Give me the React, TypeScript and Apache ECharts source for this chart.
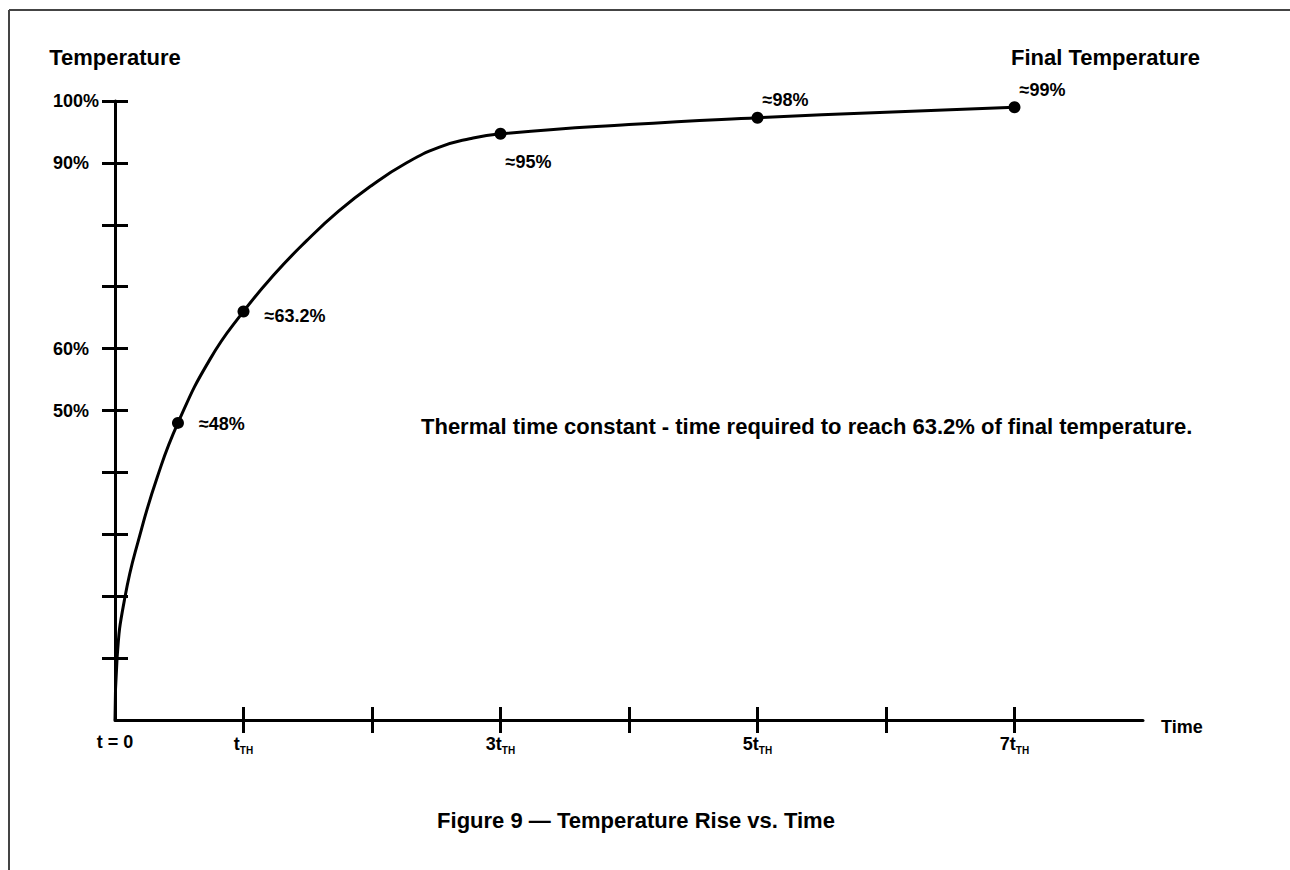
import React, { useEffect, useRef } from "react";
import * as echarts from "echarts";

// Curve: time in multiples of t_TH, temperature in % of final
const curveTime = [0, 0.016, 0.078, 0.194, 0.33, 0.49, 0.74, 1.0, 1.24, 1.49, 1.74, 2.0, 2.26, 2.52, 2.76, 3.0, 4.0, 5.0, 6.0, 7.0];
const curveTemp = [0, 9.9, 19.9, 29.9, 39.3, 48, 58.3, 66, 72, 77.4, 82.2, 86.4, 89.9, 92.5, 93.9, 94.7, 96.2, 97.3, 98.2, 99.0];

// Marked points
const markTime = [0.49, 1, 3, 5, 7];
const markTemp = [48, 66, 94.7, 97.3, 99.0];
const markLabels = ["≈48%", "≈63.2%", "≈95%", "≈98%", "≈99%"];

// Axis ticks and labels
const yTickValues = [10, 20, 30, 40, 50, 60, 70, 80, 90, 100];
const yLabelValues = [50, 60, 90, 100];
const xTickValues = [1, 2, 3, 4, 5, 6, 7];
const xLabelValues = [0, 1, 3, 5, 7];
const xLabelText: Record<number, string> = { 0: "t = 0", 1: "{t|t}{s|TH}", 3: "{t|3t}{s|TH}", 5: "{t|5t}{s|TH}", 7: "{t|7t}{s|TH}" };

const FONT = "'Liberation Sans', Arial, sans-serif";
const markLabelOffsets = [[0, 1], [0, 5], [-16, 28], [-16, -18], [-16, -17]];

export default function App() {
  const ref = useRef<HTMLDivElement>(null);
  useEffect(() => {
    if (!ref.current) return;
    const chart = echarts.init(ref.current, undefined, { renderer: "svg" });
    const axisLineStyle = { color: "#000", width: 3 };
    chart.setOption({
      animation: false,
      backgroundColor: "#fff",
      textStyle: { fontFamily: FONT, color: "#000" },
      grid: { left: 115, top: 101, right: 147, bottom: 150 },
      xAxis: [
        {
          type: "value",
          min: 0,
          max: 8,
          interval: 1,
          position: "bottom",
          splitLine: { show: false },
          axisLine: { show: true, lineStyle: axisLineStyle },
          axisTick: { show: true, length: 13, lineStyle: axisLineStyle, customValues: xTickValues },
          axisLabel: {
            show: true,
            customValues: xLabelValues,
            margin: 13,
            fontSize: 18,
            fontWeight: "bold",
            fontFamily: FONT,
            color: "#000",
            formatter: (v: number) => xLabelText[v] ?? "",
            rich: {
              t: { fontSize: 18, fontWeight: "bold", fontFamily: FONT, color: "#000" },
              s: { fontSize: 10, fontWeight: "bold", fontFamily: FONT, color: "#000", padding: [12, 0, 0, 0] },
            },
          },
          name: "Time",
          nameLocation: "end",
          nameGap: 18,
          nameTextStyle: { fontSize: 18, fontWeight: "bold", fontFamily: FONT, color: "#000", verticalAlign: "top", lineHeight: 14 },
        },
        {
          type: "value",
          min: 0,
          max: 8,
          interval: 1,
          position: "bottom",
          splitLine: { show: false },
          axisLine: { show: false },
          axisTick: { show: true, inside: true, length: 13, lineStyle: axisLineStyle, customValues: xTickValues },
          axisLabel: { show: false },
        },
      ],
      yAxis: [
        {
          type: "value",
          min: 0,
          max: 100,
          interval: 10,
          position: "left",
          splitLine: { show: false },
          axisLine: { show: true, lineStyle: axisLineStyle },
          axisTick: { show: true, length: 13, lineStyle: axisLineStyle, customValues: yTickValues },
          axisLabel: {
            show: true,
            customValues: yLabelValues,
            align: "left",
            margin: 62,
            fontSize: 18,
            fontWeight: "bold",
            fontFamily: FONT,
            color: "#000",
            padding: [6, 0, 0, 0],
            formatter: (v: number) => v + "%",
          },
          name: "Temperature",
          nameLocation: "end",
          nameGap: 33,
          nameTextStyle: { fontSize: 22, fontWeight: "bold", fontFamily: FONT, color: "#000" },
        },
        {
          type: "value",
          min: 0,
          max: 100,
          interval: 10,
          position: "left",
          splitLine: { show: false },
          axisLine: { show: false },
          axisTick: { show: true, inside: true, length: 13, lineStyle: axisLineStyle, customValues: yTickValues },
          axisLabel: { show: false },
        },
      ],
      series: [
        {
          type: "line",
          xAxisIndex: 0,
          yAxisIndex: 0,
          data: curveTime.map((t, i) => [t, curveTemp[i]]),
          smooth: 0.5,
          showSymbol: false,
          symbol: "none",
          lineStyle: { color: "#000", width: 3 },
          silent: true,
          z: 3,
        },
        {
          type: "scatter",
          xAxisIndex: 0,
          yAxisIndex: 0,
          symbol: "circle",
          symbolSize: 12,
          itemStyle: { color: "#000", opacity: 1 },
          z: 4,
          data: markTime.map((t, i) => ({
            value: [t, markTemp[i]],
            label: {
              show: true,
              position: "right",
              distance: 15,
              offset: markLabelOffsets[i],
              formatter: markLabels[i],
              fontSize: 18,
              fontWeight: "bold",
              fontFamily: FONT,
              color: "#000",
              opacity: 1,
            },
          })),
        },
      ],
      graphic: [
        { type: "line", shape: { x1: 9, y1: 10, x2: 1290, y2: 10 }, style: { stroke: "#444", lineWidth: 2 } },
        { type: "line", shape: { x1: 9, y1: 10, x2: 9, y2: 870 }, style: { stroke: "#444", lineWidth: 2 } },
        {
          type: "text",
          x: 1011,
          y: 57,
          style: { text: "Final Temperature", fontSize: 22, fontWeight: "bold", fontFamily: FONT, fill: "#000", textAlign: "left", textVerticalAlign: "middle" },
        },
        {
          type: "text",
          x: 421,
          y: 426,
          style: {
            text: "Thermal time constant - time required to reach 63.2% of final temperature.",
            fontSize: 22,
            fontWeight: "bold",
            fontFamily: FONT,
            fill: "#000",
            textAlign: "left",
            textVerticalAlign: "middle",
          },
        },
        {
          type: "text",
          x: 636,
          y: 820,
          style: { text: "Figure 9 — Temperature Rise vs. Time", fontSize: 22, fontWeight: "bold", fontFamily: FONT, fill: "#000", textAlign: "center", textVerticalAlign: "middle" },
        },
      ],
    });
    return () => chart.dispose();
  }, []);
  return <div ref={ref} style={{ position: "absolute", left: 0, top: 0, width: 1290, height: 870 }} />;
}
